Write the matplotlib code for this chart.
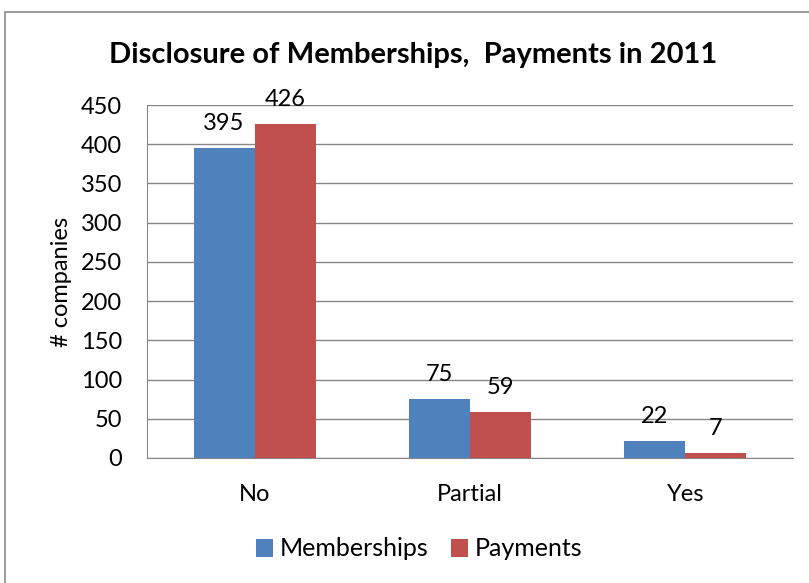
import matplotlib
matplotlib.use('Agg')
import matplotlib.pyplot as plt
import numpy as np
from matplotlib.patches import Rectangle

categories = ['No', 'Partial', 'Yes']
memberships = [395, 75, 22]
payments = [426, 59, 7]
series_names = ['Memberships', 'Payments']
y_ticks = [0, 50, 100, 150, 200, 250, 300, 350, 400, 450]

plt.rcParams['font.family'] = ['Lato', 'DejaVu Sans']

fig = plt.figure(figsize=(8.09, 5.83), dpi=100)
ax = fig.add_axes([147 / 809, 1 - 458 / 583, 646 / 809, 353 / 583])

# outer chart border
fig.patches.append(Rectangle((5 / 809, -0.05), 1.1, 1 - 12 / 583 + 0.05,
                             transform=fig.transFigure, fill=False,
                             edgecolor='#8a8a8a', linewidth=1.2))

x = np.arange(len(categories))
w = 0.284
b1 = ax.bar(x - w / 2, memberships, w, color='#4F81BD', label=series_names[0], zorder=3)
b2 = ax.bar(x + w / 2, payments, w, color='#C0504D', label=series_names[1], zorder=3)

for bars in (b1, b2):
    for r in bars:
        ax.annotate(str(int(r.get_height())), (r.get_x() + r.get_width() / 2, r.get_height()),
                    xytext=(0, 10), textcoords='offset points', ha='center', va='bottom',
                    fontsize=17)

ax.set_xlim(-0.5, 2.5)
ax.set_ylim(0, 450)
ax.set_yticks(y_ticks)
ax.set_xticks(x)
ax.set_xticklabels(categories)
ax.tick_params(axis='both', length=0, labelsize=17)
ax.tick_params(axis='y', pad=18)
ax.tick_params(axis='x', pad=18.5)
ax.grid(axis='y', color='#868686', linewidth=1, zorder=0)
for s in ['top', 'right']:
    ax.spines[s].set_visible(False)
ax.spines['left'].set_color('#868686')
ax.spines['bottom'].set_color('#868686')
ax.set_ylabel('# companies', fontsize=17, labelpad=6)

fig.text(413 / 809, 1 - 55 / 583, 'Disclosure of Memberships,  Payments in 2011',
         ha='center', va='center', fontsize=21, fontweight='bold')

fig.legend(handles=[b1, b2], loc='center', bbox_to_anchor=(419 / 809, 1 - 549 / 583),
           ncol=2, frameon=False, fontsize=18, handlelength=0.7, handleheight=0.7,
           handletextpad=0.25, columnspacing=0.9)

fig.savefig('out.png', dpi=100)
